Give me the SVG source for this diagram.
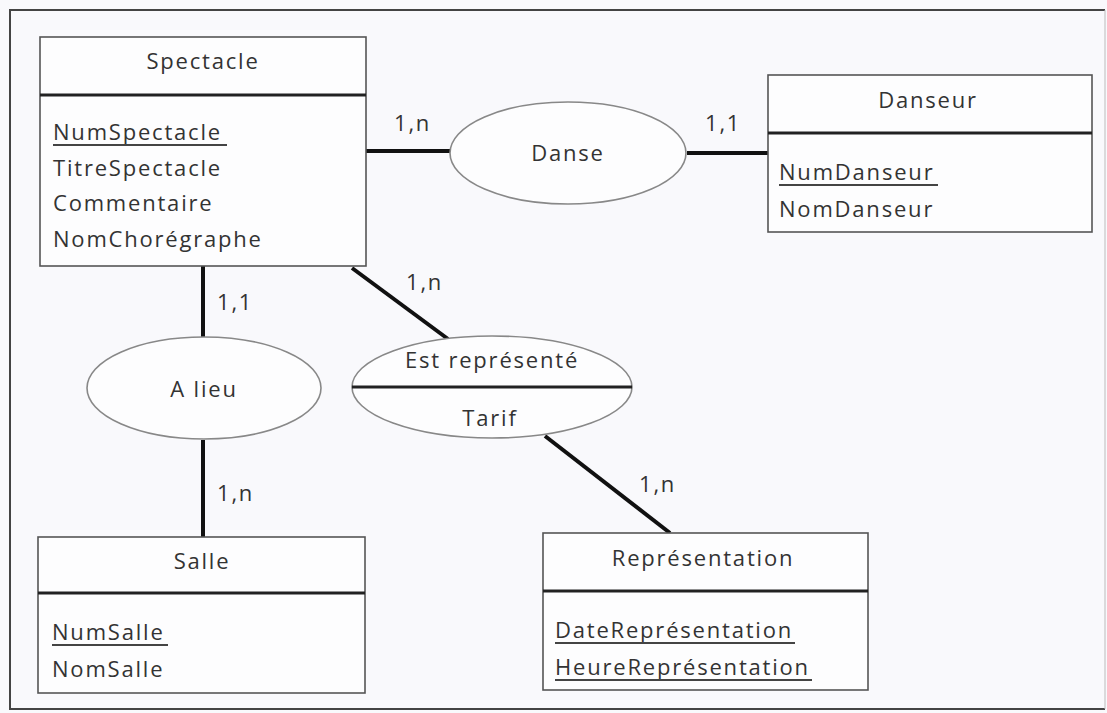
<svg xmlns="http://www.w3.org/2000/svg" width="1107" height="713" viewBox="0 0 1107 713">
<style>
.t{font-family:"Open Sans","Liberation Sans",sans-serif;font-size:22px;fill:#333;letter-spacing:1.8px}
.c{text-anchor:middle}
.box{fill:#fdfdfe;stroke:#555;stroke-width:1.6}
.div{stroke:#222;stroke-width:3}
.ell{fill:#fdfdfe;stroke:#888;stroke-width:1.6}
.con{stroke:#111;stroke-width:4;fill:none}
.u{stroke:#444;stroke-width:2}
</style>
<rect x="0" y="0" width="1107" height="713" fill="#f9f9fc"/>
<path d="M1105 10 H10 V709 H1105" fill="none" stroke="#444" stroke-width="2"/>
<line x1="1105" y1="10" x2="1105" y2="709" stroke="#bbb" stroke-width="1"/>
<g id="connectors">
<line class="con" x1="366" y1="151" x2="450" y2="151"/>
<line class="con" x1="687" y1="153" x2="768" y2="153"/>
<line class="con" x1="203" y1="266" x2="203" y2="337"/>
<line class="con" x1="203" y1="440" x2="203" y2="537"/>
<line class="con" x1="352" y1="268" x2="448" y2="339"/>
<line class="con" x1="545" y1="436" x2="670" y2="533"/>
<text class="t" x="394" y="131">1,n</text>
<text class="t" x="705" y="131">1,1</text>
<text class="t" x="217" y="310">1,1</text>
<text class="t" x="406" y="290">1,n</text>
<text class="t" x="217" y="501">1,n</text>
<text class="t" x="639" y="492">1,n</text>
</g>
<g id="spectacle">
<rect class="box" x="40" y="37" width="326" height="229"/>
<line class="div" x1="40" y1="95" x2="366" y2="95"/>
<text class="t c" x="203" y="69">Spectacle</text>
<text class="t" x="53" y="140">NumSpectacle</text>
<line class="u" x1="53" y1="145" x2="227" y2="145"/>
<text class="t" x="53" y="176">TitreSpectacle</text>
<text class="t" x="53" y="211">Commentaire</text>
<text class="t" x="53" y="247">NomChorégraphe</text>
</g>
<g id="danseur">
<rect class="box" x="768" y="75" width="324" height="157"/>
<line class="div" x1="768" y1="133" x2="1092" y2="133"/>
<text class="t c" x="928" y="108">Danseur</text>
<text class="t" x="779" y="180">NumDanseur</text>
<line class="u" x1="779" y1="185" x2="938" y2="185"/>
<text class="t" x="779" y="217">NomDanseur</text>
</g>
<g id="danse">
<ellipse class="ell" cx="568" cy="153" rx="118" ry="51"/>
<text class="t c" x="568" y="161">Danse</text>
</g>
<g id="alieu">
<ellipse class="ell" cx="204" cy="388" rx="117" ry="51"/>
<text class="t c" x="204" y="397">A lieu</text>
</g>
<g id="estrepresente">
<ellipse class="ell" cx="492" cy="387" rx="140" ry="51"/>
<line class="div" x1="352" y1="387" x2="632" y2="387"/>
<text class="t c" x="492" y="368">Est représenté</text>
<text class="t c" x="490" y="426">Tarif</text>
</g>
<g id="salle">
<rect class="box" x="38" y="537" width="327" height="156"/>
<line class="div" x1="38" y1="593" x2="365" y2="593"/>
<text class="t c" x="202" y="569">Salle</text>
<text class="t" x="52" y="640">NumSalle</text>
<line class="u" x1="52" y1="645" x2="168" y2="645"/>
<text class="t" x="52" y="677">NomSalle</text>
</g>
<g id="representation">
<rect class="box" x="543" y="533" width="325" height="157"/>
<line class="div" x1="543" y1="591" x2="868" y2="591"/>
<text class="t c" x="703" y="566">Représentation</text>
<text class="t" x="555" y="638">DateReprésentation</text>
<line class="u" x1="555" y1="643" x2="795" y2="643"/>
<text class="t" x="555" y="675">HeureReprésentation</text>
<line class="u" x1="555" y1="680" x2="812" y2="680"/>
</g>
</svg>
